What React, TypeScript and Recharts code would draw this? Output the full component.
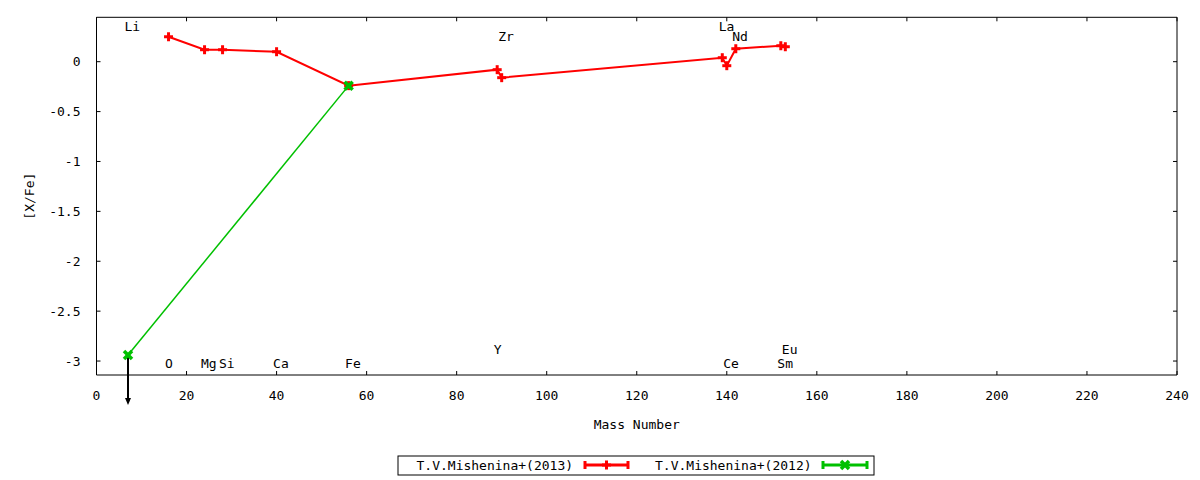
import { ComposedChart, Line, Scatter, XAxis, YAxis } from "recharts";

// [X/Fe] vs mass number, T.V.Mishenina+ (2013) and (2012)
const mass2013 = [16, 24, 28, 40, 56, 89, 90, 139, 140, 142, 152, 153];
const xfe2013 = [0.25, 0.12, 0.12, 0.1, -0.24, -0.08, -0.16, 0.04, -0.04, 0.13, 0.16, 0.15];

const mass2012 = [7, 56];
const xfe2012 = [-2.94, -0.24];
const upper2012 = [true, false];

const seriesNames = ["T.V.Mishenina+(2013)", "T.V.Mishenina+(2012)"];

const elemNames = ["Li", "O", "Mg", "Si", "Ca", "Fe", "Y", "Zr", "La", "Ce", "Nd", "Sm", "Eu"];
const elemMass = [7, 16, 24, 28, 40, 56, 89, 90, 139, 140, 142, 152, 153];
const elemLabelY = [0.35, -3.02, -3.02, -3.02, -3.02, -3.02, -2.88, 0.25, 0.35, -3.02, 0.25, -3.02, -2.88];

const xTicks = [0, 20, 40, 60, 80, 100, 120, 140, 160, 180, 200, 220, 240];
const yTicks = [-3, -2.5, -2, -1.5, -1, -0.5, 0];

const red = mass2013.map((x, i) => ({ x, y: xfe2013[i] }));
const green = mass2012.map((x, i) => ({ x, y: xfe2012[i], upper: upper2012[i] }));
const labels = elemMass.map((x, i) => ({ x, y: elemLabelY[i], name: elemNames[i] }));

const FONT = "'DejaVu Sans Mono', monospace";
const RED = "#ff0000";
const GREEN = "#00c000";

const RedPlus = (props: any) => {
  const { cx, cy } = props;
  if (cx == null || cy == null) return null;
  return (
    <g key={props.key}>
      <line x1={cx - 4.5} x2={cx + 4.5} y1={cy} y2={cy} stroke={RED} strokeWidth={3} />
      <line x1={cx} x2={cx} y1={cy - 4.5} y2={cy + 4.5} stroke={RED} strokeWidth={3} />
    </g>
  );
};

const GreenCross = (props: any) => {
  const { cx, cy, payload } = props;
  if (cx == null || cy == null) return null;
  return (
    <g key={props.key}>
      {payload && payload.upper && (
        <g>
          <line x1={cx} x2={cx} y1={cy} y2={cy + 44} stroke="#000" strokeWidth={2} />
          <polygon points={`${cx - 3},${cy + 43} ${cx + 3},${cy + 43} ${cx},${cy + 50}`} fill="#000" />
        </g>
      )}
      <line x1={cx - 4} x2={cx + 4} y1={cy - 4} y2={cy + 4} stroke={GREEN} strokeWidth={3.5} />
      <line x1={cx - 4} x2={cx + 4} y1={cy + 4} y2={cy - 4} stroke={GREEN} strokeWidth={3.5} />
    </g>
  );
};

const ElemLabel = (props: any) => {
  const { cx, cy, payload } = props;
  return (
    <text x={cx - 3.5} y={cy} dominantBaseline="central" textAnchor="start" fontFamily={FONT} fontSize={13} fill="#000">
      {payload.name}
    </text>
  );
};

function LegendBox() {
  return (
    <svg width={478} height={21} style={{ position: "absolute", left: 389, top: 447 }}>
      <rect x={1} y={1} width={476} height={19} fill="#fff" stroke="#000" strokeWidth={1} />
      <text x={19.5} y={14.5} fontFamily={FONT} fontSize={13} fill="#000">{seriesNames[0]}</text>
      <line x1={188} x2={231} y1={10} y2={10} stroke={RED} strokeWidth={3} />
      <line x1={188} x2={188} y1={6} y2={14} stroke={RED} strokeWidth={3} />
      <line x1={231} x2={231} y1={6} y2={14} stroke={RED} strokeWidth={3} />
      <RedPlus cx={209.5} cy={10} />
      <text x={258} y={14.5} fontFamily={FONT} fontSize={13} fill="#000">{seriesNames[1]}</text>
      <line x1={426} x2={470} y1={10} y2={10} stroke={GREEN} strokeWidth={3} />
      <line x1={426} x2={426} y1={6} y2={14} stroke={GREEN} strokeWidth={3} />
      <line x1={470} x2={470} y1={6} y2={14} stroke={GREEN} strokeWidth={3} />
      <GreenCross cx={448} cy={10} payload={{}} />
    </svg>
  );
}

const tickStyle = { fontFamily: FONT, fontSize: 13, fill: "#000" };
const axisLine = { stroke: "#000", strokeWidth: 1 };

export default function App() {
  return (
    <div style={{ position: "relative", width: 1184, height: 472 }}>
      <ComposedChart
        width={1184}
        height={472}
        margin={{ top: 4.3, right: 10, bottom: 45, left: 8.5 }}
        style={{ fontFamily: FONT }}
      >
        <XAxis
          xAxisId={0}
          dataKey="x"
          type="number"
          domain={[0, 240]}
          ticks={xTicks}
          height={60}
          tick={tickStyle}
          tickSize={-4}
          tickMargin={20}
          tickLine={axisLine}
          axisLine={axisLine}
          label={{ value: "Mass Number", position: "insideBottom", offset: 6, style: { fontFamily: FONT, fontSize: 13, fill: "#000" } }}
        />
        <XAxis
          xAxisId="top"
          orientation="top"
          dataKey="x"
          type="number"
          domain={[0, 240]}
          ticks={xTicks}
          allowDataOverflow
          height={5}
          tickFormatter={() => ""}
          tickSize={-4}
          tickLine={axisLine}
          axisLine={axisLine}
        />
        <YAxis
          yAxisId={0}
          type="number"
          domain={[-3.14, 0.445]}
          ticks={yTicks}
          width={80}
          tick={tickStyle}
          tickSize={-4}
          tickMargin={20}
          tickLine={axisLine}
          axisLine={axisLine}
          label={{ value: "[X/Fe]", angle: -90, position: "insideLeft", offset: 13, style: { textAnchor: "middle", fontFamily: FONT, fontSize: 13, fill: "#000" } }}
        />
        <YAxis
          yAxisId="right"
          orientation="right"
          type="number"
          domain={[-3.14, 0.445]}
          ticks={yTicks}
          allowDataOverflow
          width={5}
          tickFormatter={() => ""}
          tickSize={-4}
          tickLine={axisLine}
          axisLine={axisLine}
        />
        <Scatter data={labels} dataKey="y" shape={ElemLabel} isAnimationActive={false} />
        <Line
          data={red}
          dataKey="y"
          type="linear"
          stroke={RED}
          strokeWidth={2}
          dot={RedPlus}
          activeDot={false}
          isAnimationActive={false}
        />
        <Line
          data={green}
          dataKey="y"
          type="linear"
          stroke={GREEN}
          strokeWidth={1.5}
          dot={GreenCross}
          activeDot={false}
          isAnimationActive={false}
        />
      </ComposedChart>
      <LegendBox />
    </div>
  );
}
